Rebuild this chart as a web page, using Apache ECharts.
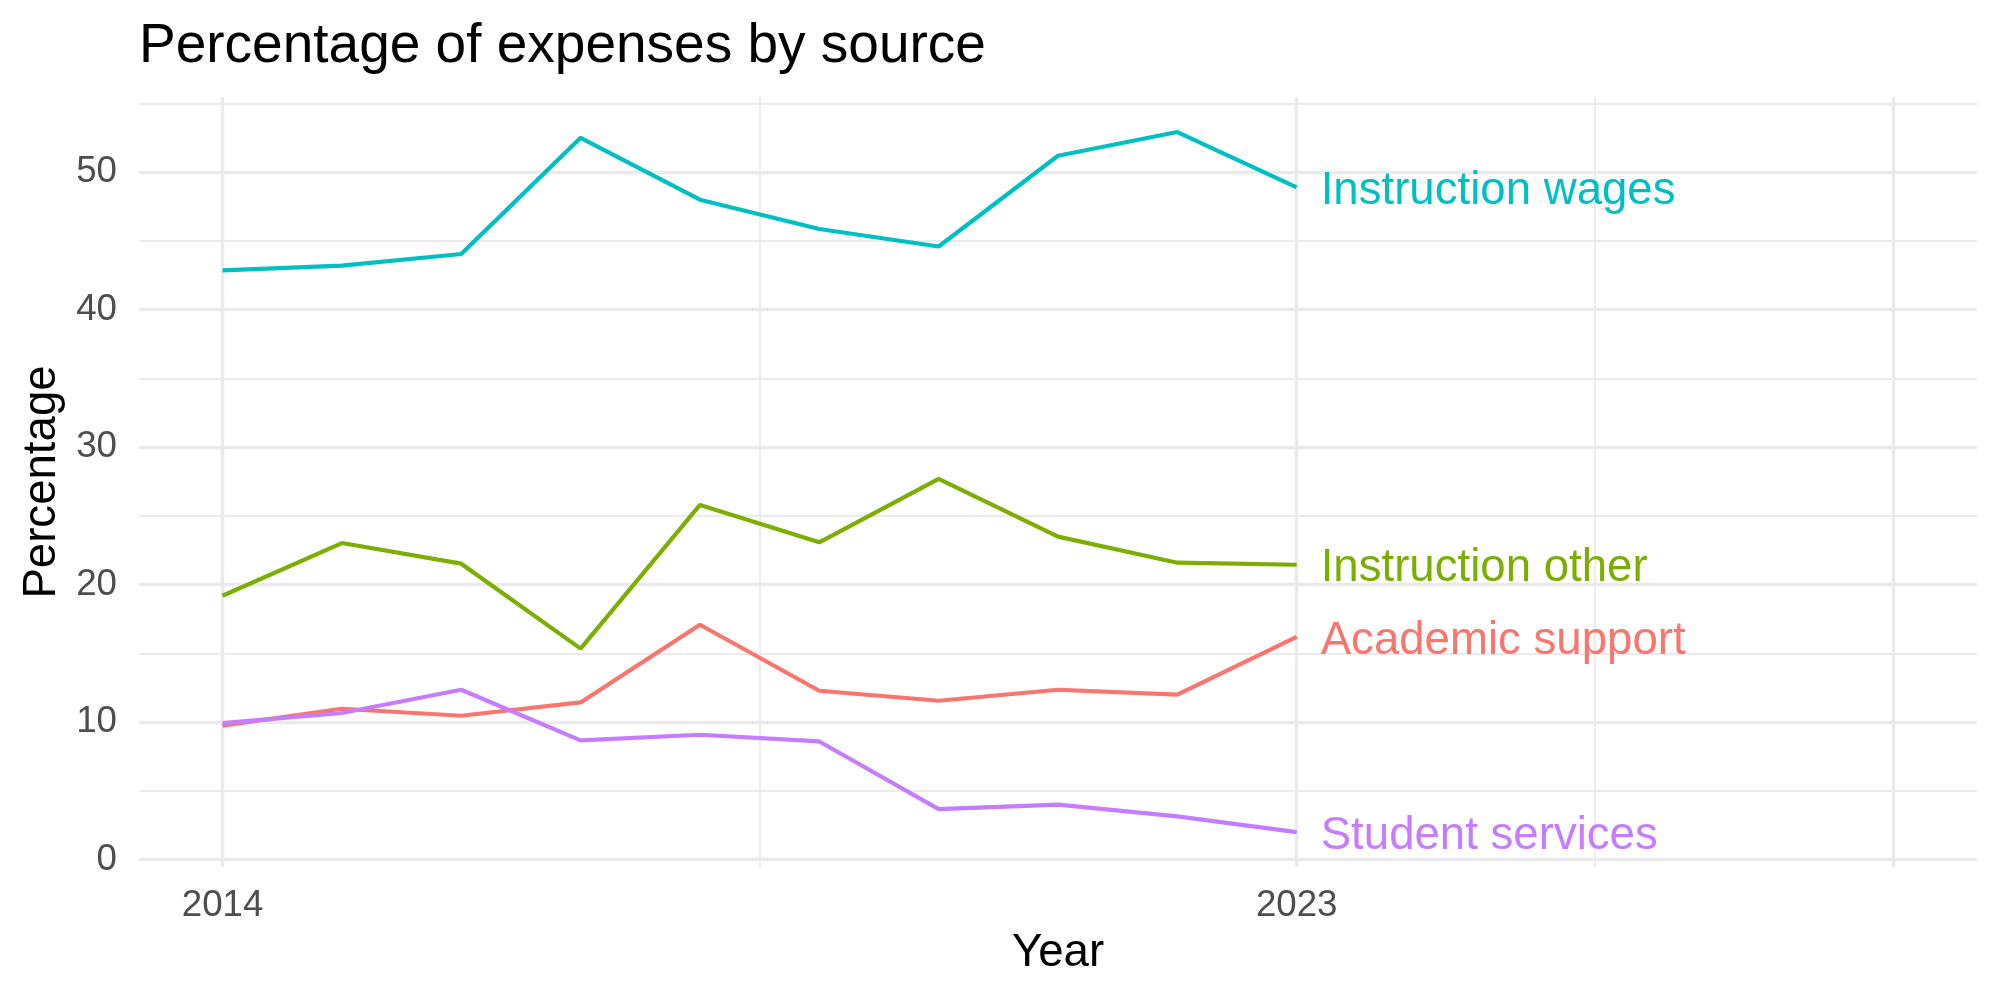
<!DOCTYPE html>
<html>
<head>
<meta charset="utf-8">
<script src="https://cdn.jsdelivr.net/npm/echarts@6/dist/echarts.min.js"></script>
<style>
  html, body { margin: 0; padding: 0; background: #ffffff; }
  #chart { width: 2000px; height: 1000px; }
</style>
</head>
<body>
<div id="chart"></div>
<script>
// ---- data ----
const years = [2014, 2015, 2016, 2017, 2018, 2019, 2020, 2021, 2022, 2023];
const academicSupport  = [9.75, 10.98, 10.47, 11.44, 17.09, 12.29, 11.56, 12.36, 12.0, 16.2];
const instructionOther = [19.2, 23.03, 21.53, 15.35, 25.8, 23.08, 27.7, 23.5, 21.6, 21.45];
const instructionWages = [42.86, 43.2, 44.05, 52.5, 48.0, 45.87, 44.6, 51.2, 52.92, 48.9];
const studentServices  = [9.94, 10.67, 12.36, 8.68, 9.09, 8.6, 3.68, 4.0, 3.15, 2.01];

const seriesNames  = ['Academic support', 'Instruction other', 'Instruction wages', 'Student services'];
const seriesValues = [academicSupport, instructionOther, instructionWages, studentServices];
const seriesColors = ['#F8766D', '#7CAE00', '#00BFC4', '#C77CFF'];

const xMajorBreaks = [2014, 2023, 2028];
const xTickLabels  = [2014, 2023];
const xMinorBreaks = [2018.5, 2025.5];
const yTickLabels  = [0, 10, 20, 30, 40, 50];
const yMinorBreaks = [5, 15, 25, 35, 45, 55];

// ---- chart ----
const FONT = 'Liberation Sans, Arial, Helvetica, sans-serif';
const GRID_COLOR = '#EBEBEB';
const chart = echarts.init(document.getElementById('chart'), null, { renderer: 'canvas' });

const xMin = 2013.3, xMax = 2028.7;
const yMin = -0.53, yMax = 55.47;

const series = seriesNames.map((name, i) => ({
  name: name,
  type: 'line',
  xAxisIndex: 0,
  yAxisIndex: 0,
  data: years.map((y, j) => [y, seriesValues[i][j]]),
  symbol: 'none',
  showSymbol: false,
  lineStyle: { color: seriesColors[i], width: 4.2 },
  itemStyle: { color: seriesColors[i] },
  z: 3 + i,
  endLabel: {
    show: true,
    formatter: name,
    color: seriesColors[i],
    fontFamily: FONT,
    fontSize: 45.6,
    distance: 24,
    offset: [0, 4]
  },
  emphasis: { disabled: true }
}));

chart.setOption({
  animation: false,
  backgroundColor: '#ffffff',
  textStyle: { fontFamily: FONT },
  title: {
    text: 'Percentage of expenses by source',
    left: 139,
    top: 19,
    padding: 0,
    textStyle: { fontFamily: FONT, fontSize: 55, fontWeight: 'normal', color: '#000000' }
  },
  grid: { left: 139, right: 23, top: 97, bottom: 133, containLabel: false },
  xAxis: [
    {
      type: 'value', min: xMin, max: xMax, position: 'bottom',
      axisLine: { show: false },
      axisTick: { show: false, customValues: xMajorBreaks },
      axisLabel: {
        show: true, customValues: xTickLabels, margin: 20,
        color: '#4D4D4D', fontSize: 36.7, fontFamily: FONT,
        formatter: v => String(v)
      },
      splitLine: { show: true, lineStyle: { color: GRID_COLOR, width: 3.4 } },
      name: 'Year', nameLocation: 'middle', nameGap: 63,
      nameTextStyle: { color: '#000000', fontSize: 45.6, fontFamily: FONT }
    },
    {
      type: 'value', min: xMin, max: xMax, position: 'bottom',
      axisLine: { show: false },
      axisTick: { show: false, customValues: xMinorBreaks },
      axisLabel: { show: false },
      splitLine: { show: true, lineStyle: { color: GRID_COLOR, width: 1.8 } }
    }
  ],
  yAxis: [
    {
      type: 'value', min: yMin, max: yMax, position: 'left',
      axisLine: { show: false },
      axisTick: { show: false, customValues: yTickLabels },
      axisLabel: {
        show: true, customValues: yTickLabels, margin: 22,
        color: '#4D4D4D', fontSize: 36.7, fontFamily: FONT,
        padding: [7, 0, 0, 0],
        formatter: v => String(v)
      },
      splitLine: { show: true, lineStyle: { color: GRID_COLOR, width: 3.4 } },
      name: 'Percentage', nameLocation: 'middle', nameGap: 72, nameRotate: 90,
      nameTextStyle: { color: '#000000', fontSize: 45.6, fontFamily: FONT }
    },
    {
      type: 'value', min: yMin, max: yMax, position: 'left',
      axisLine: { show: false },
      axisTick: { show: false, customValues: yMinorBreaks },
      axisLabel: { show: false },
      splitLine: { show: true, lineStyle: { color: GRID_COLOR, width: 1.8 } }
    }
  ],
  series: series
});
</script>
</body>
</html>
